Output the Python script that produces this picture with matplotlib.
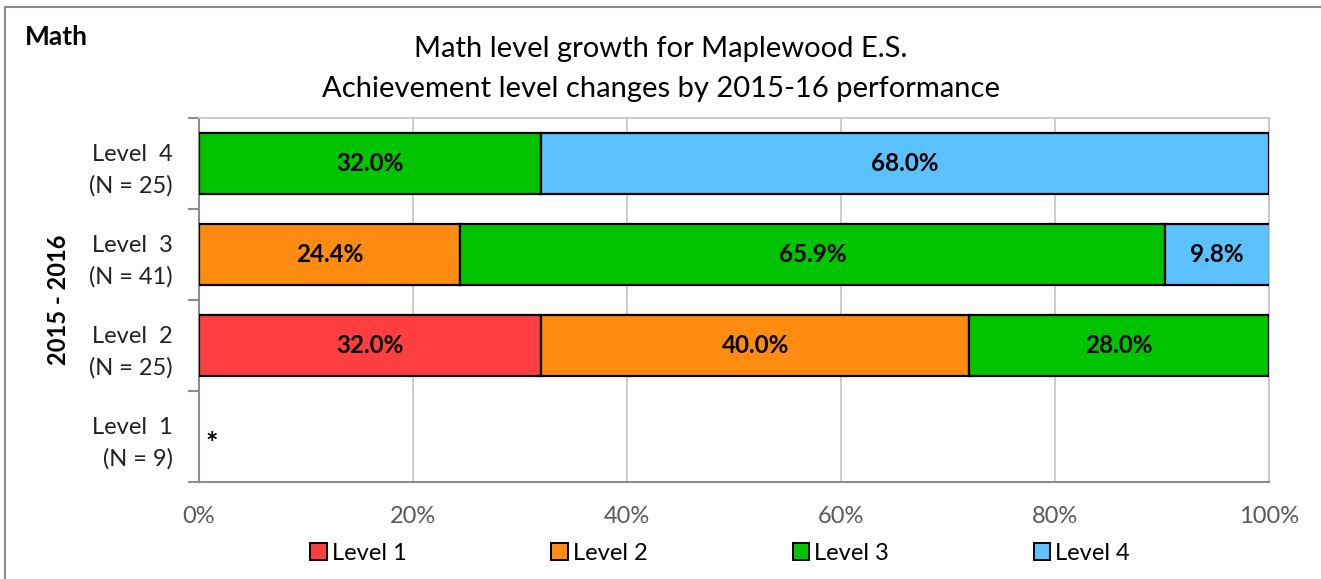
import numpy as np
import matplotlib
matplotlib.use('Agg')
import matplotlib.pyplot as plt
from matplotlib.patches import Patch
from matplotlib.lines import Line2D
from matplotlib.ticker import FuncFormatter

plt.rcParams['font.family'] = ['Lato', 'DejaVu Sans']

# data (percent of students in each 2016-17 level, by 2015-16 level)
categories = ['Level  1\n(N = 9)', 'Level  2\n(N = 25)', 'Level  3\n(N = 41)', 'Level  4\n(N = 25)']
series_names = ['Level 1', 'Level 2', 'Level 3', 'Level 4']
level1 = [0.0, 32.0, 0.0, 0.0]
level2 = [0.0, 40.0, 24.4, 0.0]
level3 = [0.0, 28.0, 65.9, 32.0]
level4 = [0.0, 0.0, 9.8, 68.0]
suppressed = ['*', '', '', '']

colors = ['#FF3F3F', '#FF8C10', '#00C400', '#5BC2FF']

fig = plt.figure(figsize=(13.21, 5.79), dpi=100)
ax = fig.add_axes([199 / 1321, 1 - 482 / 579, 1070 / 1321, 364 / 579])

y = np.arange(len(categories))
left = np.zeros(len(categories))
for name, vals, col in zip(series_names, [level1, level2, level3, level4], colors):
    vals = np.array(vals)
    lw = np.where(vals > 0, 1.6, 0)
    ax.barh(y, vals, left=left, height=0.66, color=col, edgecolor='black',
            linewidth=lw, label=name, zorder=3)
    for yi, (l, v) in enumerate(zip(left, vals)):
        if v > 0:
            ax.text(min(l + v / 2, (l + 100) / 2), yi, f'{v:.1f}%', ha='center', va='center',
                    fontsize=17.5, fontweight='bold', zorder=4)
    left += vals

for yi, s in enumerate(suppressed):
    if s:
        ax.text(0.6, yi - 0.08, s, ha='left', va='center', fontsize=21, fontweight='bold')

ax.set_xlim(0, 100)
ax.set_ylim(-0.5, len(categories) - 0.5)
ax.set_xticks(np.arange(0, 101, 20))
ax.xaxis.set_major_formatter(FuncFormatter(lambda v, p: f'{v:.0f}%'))
ax.set_yticks(y)
ax.set_yticklabels(categories, multialignment='right', linespacing=1.55)
ax.set_yticks(np.arange(-0.5, len(categories), 1), minor=True)
ax.tick_params(axis='y', which='major', length=0, pad=19, labelsize=17, labelcolor='#222222')
ax.tick_params(axis='y', which='minor', length=8, width=1.5, color='#8C8C8C')
ax.tick_params(axis='x', length=0, pad=17, labelsize=17, labelcolor='#595959')
ax.grid(axis='x', color='#C8C8C8', linewidth=1.3, zorder=0)

for side in ['top', 'right']:
    ax.spines[side].set_color('#C8C8C8')
    ax.spines[side].set_linewidth(1.3)
for side in ['left', 'bottom']:
    ax.spines[side].set_color('#8C8C8C')
    ax.spines[side].set_linewidth(1.5)

# titles and labels
fig.text(0.5, 1 - 49 / 579, 'Math level growth for Maplewood E.S.', ha='center', va='center', fontsize=21)
fig.text(0.5, 1 - 89 / 579, 'Achievement level changes by 2015-16 performance', ha='center', va='center', fontsize=21)
fig.text(25 / 1321, 1 - 37 / 579, 'Math', ha='left', va='center', fontsize=19, fontweight='bold')
fig.text(59 / 1321, 1 - 300 / 579, '2015 - 2016', ha='center', va='center', rotation=90,
         fontsize=17, fontweight='bold')

# legend
handles = [Patch(facecolor=c, edgecolor='black', linewidth=1.4) for c in colors]
fig.legend(handles, series_names, loc='center', bbox_to_anchor=(720 / 1321, 1 - 553 / 579),
           ncol=4, frameon=False, fontsize=17, handlelength=0.7, handleheight=0.7,
           handletextpad=0.2, columnspacing=6.15)

# outer chart frame
fig.add_artist(Line2D([5 / 1321, 5 / 1321], [0, 1 - 7 / 579], color='#8C8C8C', linewidth=1.5))
fig.add_artist(Line2D([5 / 1321, 1], [1 - 7 / 579, 1 - 7 / 579], color='#8C8C8C', linewidth=1.5))

fig.savefig('out.png', dpi=100)
